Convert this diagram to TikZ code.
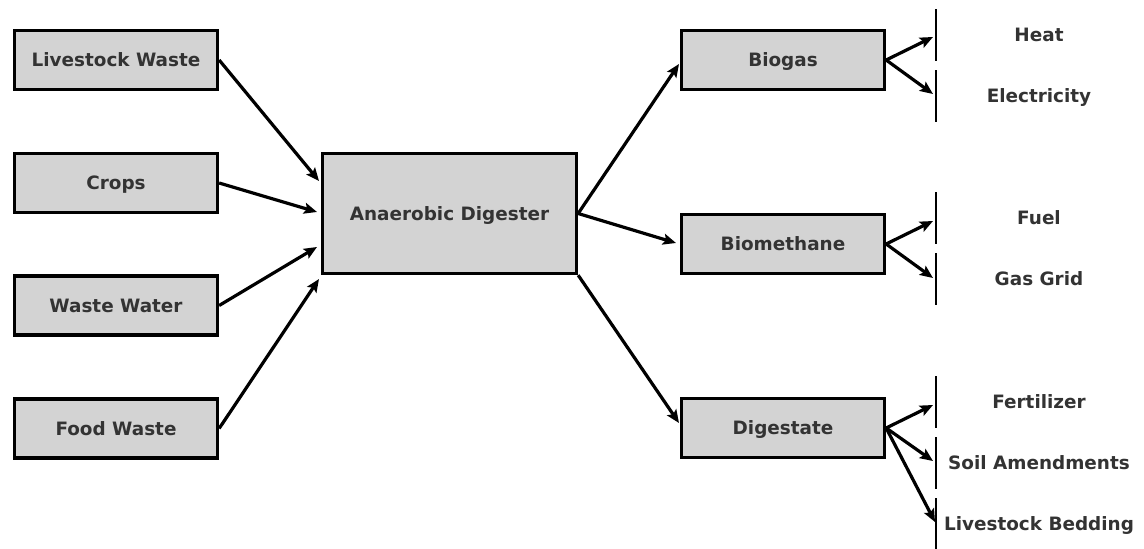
\documentclass[tikz,border=0pt]{standalone}
\usepackage{fontspec}
\setmainfont{DejaVu Sans}
\usetikzlibrary{arrows.meta,calc}
\definecolor{txt}{HTML}{333333}
\definecolor{boxfill}{HTML}{D3D3D3}
\begin{document}
\begin{tikzpicture}[x=1pt,y=-1pt,
  box/.style={draw=black,line width=3.3pt,fill=boxfill,minimum width=203pt,minimum height=59pt,inner sep=0pt,
    font=\fontsize{18.4}{20}\selectfont\bfseries,text=txt,text height=13.4pt,text depth=0pt},
  bigbox/.style={box,minimum width=254pt,minimum height=120pt},
  lbl/.style={font=\fontsize{18.4}{20}\selectfont\bfseries,text=txt,inner sep=0pt,text height=13.4pt,text depth=0pt},
  arr/.style={line width=3.2pt,-{Stealth[length=13pt,width=11pt,inset=2.5pt]}},
  bar/.style={line width=2pt,black}]
\useasboundingbox (0,0) rectangle (1144,549);
% left boxes
\node[box] (lw) at (116,60) {Livestock Waste};
\node[box] (cr) at (116,183) {Crops};
\node[box] (ww) at (116,305.5) {Waste Water};
\node[box] (fw) at (116,428.5) {Food Waste};
% center
\node[bigbox] (ad) at (449.5,213.5) {Anaerobic Digester};
% right boxes
\node[box] (bg) at (783,60) {Biogas};
\node[box] (bm) at (783,244) {Biomethane};
\node[box] (dg) at (783,428) {Digestate};
% labels
\node[lbl] (heat) at (1039,35) {Heat};
\node[lbl] (elec) at (1039,96) {Electricity};
\node[lbl] (fuel) at (1039,218) {Fuel};
\node[lbl] (grid) at (1039,279) {Gas Grid};
\node[lbl] (fert) at (1039,402) {Fertilizer};
\node[lbl] (soil) at (1039,463) {Soil Amendments};
\node[lbl] (bed) at (1039,524) {Livestock Bedding};
% bars
\foreach \n/\y in {heat/35,elec/96,fuel/218,grid/279,fert/402,soil/463,bed/524}{
  \coordinate (\n top) at (935.5,\y-26);
  \coordinate (\n bot) at (935.5,\y+26);
  \draw[bar] (\n top) -- (\n bot);
}
% arrow targets
\coordinate (tlw) at (319,181);
\coordinate (tcr) at (317,212);
\coordinate (tww) at (317,247);
\coordinate (tfw) at (319,279);
\coordinate (tbg) at (679,64);
\coordinate (tbm) at (676,243);
\coordinate (tdg) at (679,423);
\coordinate (theat) at (933,37);
\coordinate (telec) at (933,94);
\coordinate (tfuel) at (933,221);
\coordinate (tgrid) at (933,278);
\coordinate (tfert) at (933,405);
\coordinate (tsoil) at (933,461);
\coordinate (tbed) at (935,522);
% arrows in
\draw[arr] (lw.east) -- (tlw);
\draw[arr] (cr.east) -- (tcr);
\draw[arr] (ww.east) -- (tww);
\draw[arr] (fw.east) -- (tfw);
% arrows out
\draw[arr] (ad.east) -- (tbg);
\draw[arr] (ad.east) -- (tbm);
\draw[arr] (ad.south east) -- (tdg);
\draw[arr] (bg.east) -- (theat);
\draw[arr] (bg.east) -- (telec);
\draw[arr] (bm.east) -- (tfuel);
\draw[arr] (bm.east) -- (tgrid);
\draw[arr] (dg.east) -- (tfert);
\draw[arr] (dg.east) -- (tsoil);
\draw[arr] (dg.east) -- (tbed);
\end{tikzpicture}
\end{document}
